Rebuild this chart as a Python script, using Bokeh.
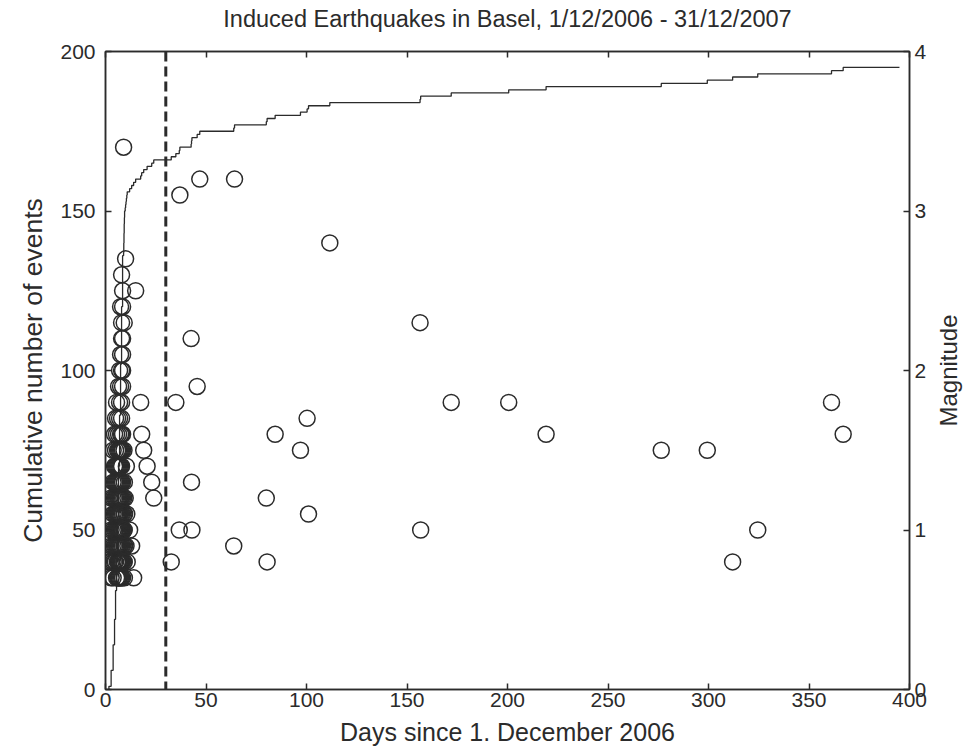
import numpy as np
from bokeh.plotting import figure
from bokeh.layouts import row, column
from bokeh.models import Range1d, LinearAxis, FixedTicker, Span, CustomJSTickFormatter
from bokeh.core.properties import value
from bokeh.embed import file_html
from bokeh.resources import INLINE

title_text = "Induced Earthquakes in Basel, 1/12/2006 - 31/12/2007"
x_label = "Days since 1. December 2006"
y_left_label = "Cumulative number of events"
y_right_label = "Magnitude"
x_ticks = [0, 50, 100, 150, 200, 250, 300, 350, 400]
count_ticks = [0, 50, 100, 150, 200]
mag_ticks = [0, 1, 2, 3, 4]
cutoff_day = 30
end_day = 395

# one entry per event: day since 1 Dec 2006 and magnitude
event_day = [
    1.7,
    2.8, 2.8, 2.8, 2.8, 2.8,
    3.8, 3.8, 3.8, 3.8, 3.8, 3.8, 3.8, 3.8,
    4.5, 4.5, 4.5, 4.5, 4.5, 4.5, 4.5, 4.5,
    5.0, 5.0, 5.0, 5.0, 5.0, 5.0, 5.0, 5.0, 5.0,
    5.5, 5.5, 5.5, 5.5, 5.5, 5.5, 5.5, 5.5, 5.5,
    6.0, 6.0, 6.0, 6.0, 6.0, 6.0, 6.0, 6.0, 6.0, 6.0, 6.0, 6.0, 6.0, 6.0,
    6.5, 6.5, 6.5, 6.5, 6.5, 6.5, 6.5, 6.5, 6.5, 6.5, 6.5, 6.5, 6.5, 6.5, 6.5, 6.5,
    7.0, 7.0, 7.0, 7.0, 7.0, 7.0, 7.0, 7.0, 7.0, 7.0, 7.0, 7.0, 7.0, 7.0, 7.0, 7.0,
    7.5, 7.5, 7.5, 7.5, 7.5, 7.5, 7.5, 7.5, 7.5, 7.5, 7.5, 7.5, 7.5, 7.5, 7.5, 7.5,
    8.0, 8.0, 8.0, 8.0, 8.0, 8.0, 8.0, 8.0, 8.0, 8.0, 8.0, 8.0, 8.0, 8.0, 8.0, 8.0, 8.0, 8.0,
    8.5, 8.5, 8.5, 8.5, 8.5, 8.5, 8.5, 8.5, 8.5, 8.5, 8.5, 8.5, 8.5, 8.5, 8.5, 8.5,
    9.0, 9.1, 9.1, 9.1, 9.2, 9.2, 9.2, 9.3, 9.3, 9.3, 9.4, 9.4, 9.5, 9.5,
    9.8, 10.0, 10.2, 10.4, 10.6, 10.8,
    12.0, 13.0, 14.0, 15.0, 17.5, 18.0, 19.0, 20.7, 23.0, 24.0,
    32.7, 35.0, 36.7, 37.0, 42.6, 42.8, 43.0, 45.6, 46.9,
    63.8, 64.2, 80.0, 80.4, 84.4, 97.0, 100.3, 101.0, 111.6,
    156.5, 156.8, 172.0, 200.6, 219.2, 276.5, 299.4, 312.0, 324.5, 361.2, 367.0,
]
event_mag = [
    0.8,
    0.9, 1.0, 0.8, 1.2, 0.7,
    1.1, 0.9, 1.3, 0.8, 1.0, 1.5, 0.7, 1.2,
    1.4, 1.0, 0.9, 1.6, 1.1, 0.8, 1.2, 1.3,
    1.0, 1.7, 0.9, 1.2, 1.4, 0.8, 1.1, 1.5, 1.3,
    1.2, 1.0, 1.8, 0.9, 1.6, 1.1, 1.3, 0.7, 1.4,
    0.8, 1.0, 1.2, 0.9, 1.5, 1.1, 0.7, 1.3, 1.0, 1.7, 0.8, 1.4, 1.1, 0.9,
    1.0, 0.7, 1.2, 1.9, 0.8, 1.1, 1.4, 0.9, 1.6, 1.3, 1.0, 0.8, 1.2, 1.5, 0.7, 1.1,
    0.9, 1.3, 2.0, 1.1, 0.8, 1.5, 1.0, 1.7, 0.7, 1.2, 1.4, 0.9, 1.8, 1.0, 1.1, 0.8,
    1.2, 0.8, 1.6, 2.1, 1.0, 0.9, 1.3, 1.1, 2.4, 0.7, 1.5, 1.0, 1.2, 0.8, 1.4, 1.9,
    2.2, 1.0, 0.8, 1.7, 2.6, 1.1, 0.9, 1.3, 2.3, 1.5, 0.7, 1.2, 2.0, 1.0, 1.6, 0.8, 1.4, 1.8,
    2.0, 1.1, 0.9, 2.5, 1.3, 0.8, 2.1, 1.0, 1.5, 2.4, 0.7, 1.2, 1.9, 1.0, 1.6, 2.2,
    3.4, 1.0, 0.8, 1.2, 1.5, 0.9, 1.1, 2.3, 0.8, 1.0, 1.3, 0.7, 1.1, 0.9,
    1.2, 2.7, 0.9, 1.4, 1.1, 0.8,
    1.0, 0.9, 0.7, 2.5, 1.8, 1.6, 1.5, 1.4, 1.3, 1.2,
    0.8, 1.8, 1.0, 3.1, 2.2, 1.3, 1.0, 1.9, 3.2,
    0.9, 3.2, 1.2, 0.8, 1.6, 1.5, 1.7, 1.1, 2.8,
    2.3, 1.0, 1.8, 1.8, 1.6, 1.5, 1.5, 0.8, 1.0, 1.8, 1.6,
]

# cumulative number of events: count of events up to each day
days_sorted = np.sort(np.array(event_day), kind="stable")
counts = np.arange(1, len(days_sorted) + 1)
step_x = np.concatenate([[days_sorted[0]], days_sorted, [end_day]])
step_y = np.concatenate([[0], counts, [counts[-1]]])

INK = "#2b2b2b"
FONT = "Liberation Sans"
SIDE_W = 34
TOP_H = 36
MAIN_H = 752 - TOP_H


def strip(width, height, **borders):
    f = figure(width=width, height=height, x_range=Range1d(-1, 1), y_range=Range1d(-1, 1),
               output_backend="svg", toolbar_location=None, x_axis_type=None, y_axis_type=None,
               background_fill_color="white", border_fill_color="white", **borders)
    f.outline_line_color = None
    f.xgrid.visible = False
    f.ygrid.visible = False
    return f


p = figure(width=964 - SIDE_W, height=MAIN_H, x_range=Range1d(0, 400), y_range=Range1d(0, 200),
           output_backend="svg", toolbar_location=None,
           min_border_left=105, min_border_right=21, min_border_top=15, min_border_bottom=63,
           background_fill_color="white", border_fill_color="white")
p.xgrid.visible = False
p.ygrid.visible = False
p.outline_line_color = INK
p.outline_line_width = 1.5

bottom_axis = p.below[0]
left_axis = p.left[0]

p.extra_y_ranges = {"mag": Range1d(0, 4)}
right_axis = LinearAxis(y_range_name="mag", ticker=FixedTicker(ticks=mag_ticks))
p.add_layout(right_axis, "right")
top_axis = LinearAxis(ticker=FixedTicker(ticks=x_ticks),
                      formatter=CustomJSTickFormatter(code="return ''"))
top_axis.major_label_standoff = 0
p.add_layout(top_axis, "above")

bottom_axis.ticker = FixedTicker(ticks=x_ticks)
left_axis.ticker = FixedTicker(ticks=count_ticks)
bottom_axis.axis_label = x_label
left_axis.axis_label = y_left_label

for ax in [bottom_axis, left_axis, right_axis, top_axis]:
    ax.major_tick_in = 6
    ax.major_tick_out = 0
    ax.minor_tick_line_color = None
    ax.axis_line_color = INK
    ax.axis_line_width = 1.5
    ax.major_tick_line_color = INK
    ax.major_tick_line_width = 1.5
    ax.major_label_text_font = FONT
    ax.major_label_text_font_size = "21px"
    ax.major_label_text_color = INK
    ax.axis_label_text_font = FONT
    ax.axis_label_text_font_size = "25px"
    ax.axis_label_text_font_style = "normal"
    ax.axis_label_text_color = INK

left_axis.axis_label_text_font_size = "26.5px"
bottom_axis.major_label_standoff = 3
bottom_axis.axis_label_standoff = 8
left_axis.major_label_standoff = 10
left_axis.axis_label_standoff = 9
right_axis.major_label_standoff = 5

p.step(step_x, step_y, mode="after", line_color=INK, line_width=1.3)
p.add_layout(Span(location=cutoff_day, dimension="height", line_color=INK,
                  line_width=3, line_dash="10 5"))
p.scatter(event_day, event_mag, y_range_name="mag", marker="circle", size=16,
          fill_color=None, line_color=INK, line_width=1.5)

# strip above the chart with its title
top = strip(964, TOP_H, min_border_left=105, min_border_right=55,
            min_border_top=0, min_border_bottom=0)
top.text(x=[0], y=[0], text=[title_text], text_align="center", text_baseline="middle",
         text_font=value(FONT), text_font_size="23.5px", text_color=INK)

# strip to the right with the right-hand axis title (reads bottom to top)
side = strip(SIDE_W, MAIN_H, min_border_left=2, min_border_right=0,
             min_border_top=15, min_border_bottom=63)
side.text(x=[0], y=[0], text=[y_right_label], angle=np.pi / 2, text_align="center",
          text_baseline="middle", text_font=value(FONT), text_font_size="24px",
          text_color=INK)

layout = column(top, row(p, side, spacing=0), spacing=0)
open("out.html", "w").write(file_html(layout, INLINE))
